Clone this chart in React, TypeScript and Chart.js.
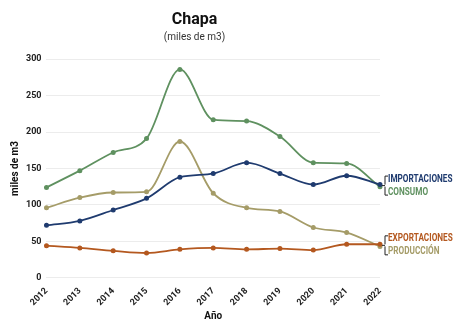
import React, { useEffect, useRef } from "react";
import { Chart, registerables } from "chart.js";
Chart.register(...registerables);

const years = ["2012","2013","2014","2015","2016","2017","2018","2019","2020","2021","2022"];
const consumo = [124,147,172,191,286,217,215,194,158,157,125];
const produccion = [96,110,117,118,187,116,96,91,69,62,43];
const importaciones = [72,78,93,109,138,143,158,143,128,140,128];
const exportaciones = [44,41,37,34,39,41,39,40,38,46,46];

const seriesNames = ["IMPORTACIONES","CONSUMO","EXPORTACIONES","PRODUCCIÓN"];
const seriesColors = ["#1f3b6f","#5f9160","#b4581f","#a59c68"];

const FONT = "Roboto, 'Noto Sans', sans-serif";

const endLabels = {
  id: "endLabels",
  afterDatasetsDraw(chart: any) {
    const ctx = chart.ctx;
    const right = chart.chartArea.right;
    const groups = [[0, 1], [2, 3]];
    groups.forEach((g) => {
      const ys = g.map((i) => {
        const meta = chart.getDatasetMeta(i);
        return meta.data[meta.data.length - 1].y;
      });
      const mid = (ys[0] + ys[1]) / 2;
      const pos = [mid - 6.5, mid + 6.5];
      ctx.save();
      ctx.strokeStyle = "#222";
      ctx.lineWidth = 1;
      const bx = right + 5;
      ctx.beginPath();
      ctx.moveTo(bx + 3, pos[0] - 3);
      ctx.lineTo(bx, pos[0] - 3);
      ctx.lineTo(bx, mid - 1);
      ctx.moveTo(bx - 3, mid);
      ctx.lineTo(bx, mid);
      ctx.moveTo(bx, mid + 1);
      ctx.lineTo(bx, pos[1] + 3);
      ctx.lineTo(bx + 3, pos[1] + 3);
      ctx.stroke();
      g.forEach((i, k) => {
        ctx.save();
        ctx.translate(bx + 3, pos[k]);
        ctx.scale(0.82, 1);
        ctx.font = "bold 10px " + FONT;
        ctx.fillStyle = seriesColors[i];
        ctx.textBaseline = "middle";
        ctx.textAlign = "left";
        ctx.fillText(seriesNames[i], 0, 0);
        ctx.restore();
      });
      ctx.restore();
    });
  },
};

export default function App() {
  const ref = useRef<HTMLCanvasElement>(null);
  useEffect(() => {
    const mk = (label: string, data: number[], color: string) => ({
      label,
      data,
      borderColor: color,
      backgroundColor: color,
      borderWidth: 1.8,
      pointRadius: 1.6,
      pointHoverRadius: 1.6,
      cubicInterpolationMode: "monotone" as const,
    });
    const chart = new Chart(ref.current!, {
      type: "line",
      data: {
        labels: years,
        datasets: [
          mk(seriesNames[0], importaciones, seriesColors[0]),
          mk(seriesNames[1], consumo, seriesColors[1]),
          mk(seriesNames[2], exportaciones, seriesColors[2]),
          mk(seriesNames[3], produccion, seriesColors[3]),
        ],
      },
      options: {
        animation: false,
        responsive: false,
        layout: { padding: { left: 9, right: 75, top: 0, bottom: 0 } },
        plugins: {
          legend: { display: false },
          tooltip: { enabled: false },
          title: {
            display: true,
            text: "Chapa",
            color: "#111",
            font: { family: FONT, size: 16, weight: "bold" },
            padding: { top: 10, bottom: 0 },
          },
          subtitle: {
            display: true,
            text: "(miles de m3)",
            color: "#333",
            font: { family: FONT, size: 10 },
            padding: { top: 2, bottom: 16 },
          },
        },
        scales: {
          x: {
            grid: { display: false },
            border: { display: false },
            ticks: {
              color: "#222",
              font: { family: FONT, size: 9, weight: "bold" },
              maxRotation: 45,
              minRotation: 45,
              padding: 0,
            },
            title: {
              display: true,
              text: "Año",
              color: "#111",
              font: { family: FONT, size: 10, weight: "bold" },
              padding: { top: 2, bottom: 0 },
            },
          },
          y: {
            min: 0,
            max: 300,
            grid: { color: "#ececec", drawTicks: false },
            border: { display: false },
            ticks: {
              stepSize: 50,
              color: "#222",
              font: { family: FONT, size: 9, weight: "bold" },
              padding: 5,
            },
            title: {
              display: true,
              text: "miles de m3",
              color: "#111",
              font: { family: FONT, size: 10, weight: "bold" },
              padding: { top: 0, bottom: 0 },
            },
          },
        },
      },
      plugins: [endLabels],
    });
    return () => chart.destroy();
  }, []);
  return (
    <div style={{ position: "fixed", left: 0, top: 0, width: 455, height: 322, background: "#fff" }}>
      <canvas ref={ref} width={455} height={322} style={{ width: 455, height: 322 }} />
    </div>
  );
}
